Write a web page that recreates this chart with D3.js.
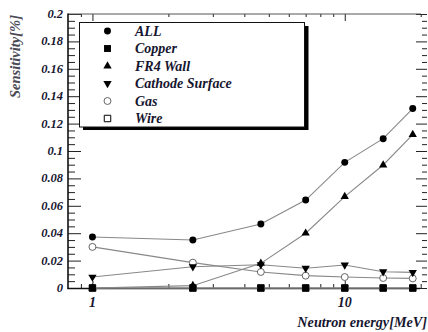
<!DOCTYPE html>
<html>
<head>
<meta charset="utf-8">
<script src="https://cdn.jsdelivr.net/npm/d3@7"></script>
<style>
  body { margin: 0; background: #fff; }
</style>
</head>
<body>
<script>
var width = 428,
	height = 332,
	font = "Liberation Serif";

// neutron energies [MeV] and sensitivities [%]
var energy  = [1, 2.5, 4.65, 7, 10, 14.2, 18.6];
var all     = [0.0372, 0.035, 0.0467, 0.0642, 0.0917, 0.109, 0.131];
var copper  = [0, 0, 0, 0, 0, 0, 0];
var fr4     = [0, 0.0017, 0.018, 0.040, 0.0667, 0.0898, 0.112];
var cathode = [0.008, 0.0155, 0.017, 0.0144, 0.0168, 0.0119, 0.0114];
var gas     = [0.030, 0.0185, 0.0117, 0.009, 0.008, 0.0073, 0.007];
var wire    = [0, 0, 0, 0, 0, 0, 0];

var names = ["ALL", "Copper", "FR4 Wall", "Cathode Surface", "Gas", "Wire"];
var yMajor = [0, 0.02, 0.04, 0.06, 0.08, 0.1, 0.12, 0.14, 0.16, 0.18, 0.2];
var yLabels = ["0", "0.02", "0.04", "0.06", "0.08", "0.1", "0.12", "0.14", "0.16", "0.18", "0.2"];
var xMajor = [1, 10];
var xMinor = [0.9, 2, 3, 4, 5, 6, 7, 8, 9, 20];

var x = d3.scaleLog().domain([0.8, 20]).range([68, 420.7]),
	y = d3.scaleLinear().domain([0, 0.2]).range([288, 14]);

var yMinor = d3.range(0, 0.2001, 0.005).filter(function (v) {
	return Math.abs(v / 0.02 - Math.round(v / 0.02)) > 0.01;
});

var svg = d3.select("body")
		.append("svg")
		.attr("width", width)
		.attr("height", height);

var label = function (txt, size) {
	return svg.append("text")
		.attr("font-family", font)
		.attr("font-style", "italic")
		.attr("font-weight", "bold")
		.attr("font-size", size)
		.attr("fill", "#161630")
		.text(txt);
}

// ticks, drawn with d3 axes (domain path hidden)
var tickAxis = function (axis, tx, ty) {
	var g = svg.append("g")
		.attr("transform", "translate(" + tx + "," + ty + ")")
		.call(axis);
	g.select(".domain").remove();
	g.selectAll("line").attr("stroke", "#222").attr("stroke-width", 1);
	g.selectAll("text").remove();
	return g;
}
tickAxis(d3.axisRight(y).tickValues(yMajor).tickSize(13), 68, 0);
tickAxis(d3.axisRight(y).tickValues(yMinor).tickSize(7), 68, 0);
tickAxis(d3.axisLeft(y).tickValues(yMajor).tickSize(11), 427, 0);
tickAxis(d3.axisLeft(y).tickValues(yMinor).tickSize(5), 427, 0);
tickAxis(d3.axisTop(x).tickValues(xMajor).tickSize(7), 0, 288);
tickAxis(d3.axisTop(x).tickValues(xMinor).tickSize(4), 0, 288);
tickAxis(d3.axisBottom(x).tickValues(xMajor).tickSize(7), 0, 14);
tickAxis(d3.axisBottom(x).tickValues(xMinor).tickSize(3), 0, 14);

// frame
svg.append("line").attr("x1", 68).attr("x2", 421).attr("y1", 14).attr("y2", 14)
	.attr("stroke", "#555").attr("stroke-width", 1);
svg.append("line").attr("x1", 68).attr("x2", 68).attr("y1", 13.5).attr("y2", 289)
	.attr("stroke", "#111").attr("stroke-width", 1.6);
svg.append("line").attr("x1", 67.5).attr("x2", 420).attr("y1", 288.5).attr("y2", 288.5)
	.attr("stroke", "#111").attr("stroke-width", 1.6);

// tick labels
yMajor.forEach(function (d, i) {
	label(yLabels[i], 12.5)
		.attr("x", 63)
		.attr("y", y(d) + 4)
		.attr("text-anchor", "end");
});

xMajor.forEach(function (d) {
	label(d, 14)
		.attr("x", x(d))
		.attr("y", 306.5)
		.attr("text-anchor", "middle");
});

label("Neutron energy[MeV]", 14.2)
	.attr("x", 427)
	.attr("y", 326.5)
	.attr("text-anchor", "end");

label("Sensitivity[%]", 14.5)
	.attr("transform", "translate(20,15) rotate(-90)")
	.attr("text-anchor", "end")
	.attr("fill", "#4a4a55");

// symbols
var shapes = [
	{ type: d3.symbolCircle, size: 38, fill: "#000", stroke: "none" },
	{ type: d3.symbolSquare, size: 48, fill: "#000", stroke: "none" },
	{ type: d3.symbolTriangle, size: 30, fill: "#000", stroke: "none" },
	{ type: d3.symbolTriangle, size: 30, fill: "#000", stroke: "none", flip: true },
	{ type: d3.symbolCircle, size: 38, fill: "#fff", stroke: "#666" },
	{ type: d3.symbolSquare, size: 42, fill: "#fff", stroke: "#000" }
];
var series = [all, copper, fr4, cathode, gas, wire];

var marker = function (g, s, cx, cy) {
	g.append("path")
		.attr("d", d3.symbol().type(s.type).size(s.size))
		.attr("transform", "translate(" + cx + "," + cy + ")" + (s.flip ? " rotate(180)" : ""))
		.attr("fill", s.fill)
		.attr("stroke", s.stroke)
		.attr("stroke-width", 1);
}

var line = d3.line()
	.x(function (d, i) { return x(energy[i]); })
	.y(function (d) { return y(d); });

// draw order: wire under copper
var order = [5, 4, 3, 2, 0, 1];
order.forEach(function (k) {
	var g = svg.append("g");
	g.append("path")
		.attr("d", line(series[k]))
		.attr("fill", "none")
		.attr("stroke", "#888")
		.attr("stroke-width", 1.1);
	series[k].forEach(function (v, i) {
		marker(g, shapes[k], x(energy[i]), y(v));
	});
});

// legend with drop shadow
svg.append("rect").attr("x", 83).attr("y", 26).attr("width", 225.5).attr("height", 104)
	.attr("fill", "#000");
svg.append("rect").attr("x", 79.5).attr("y", 22.5).attr("width", 225).attr("height", 104.5)
	.attr("fill", "#fff").attr("stroke", "#111").attr("stroke-width", 1);

names.forEach(function (n, i) {
	var ly = 31 + i * 17.5;
	marker(svg, shapes[i], 107.5, ly);
	label(n, 14)
		.attr("x", 135)
		.attr("y", ly + 4.5);
});
</script>
</body>
</html>
